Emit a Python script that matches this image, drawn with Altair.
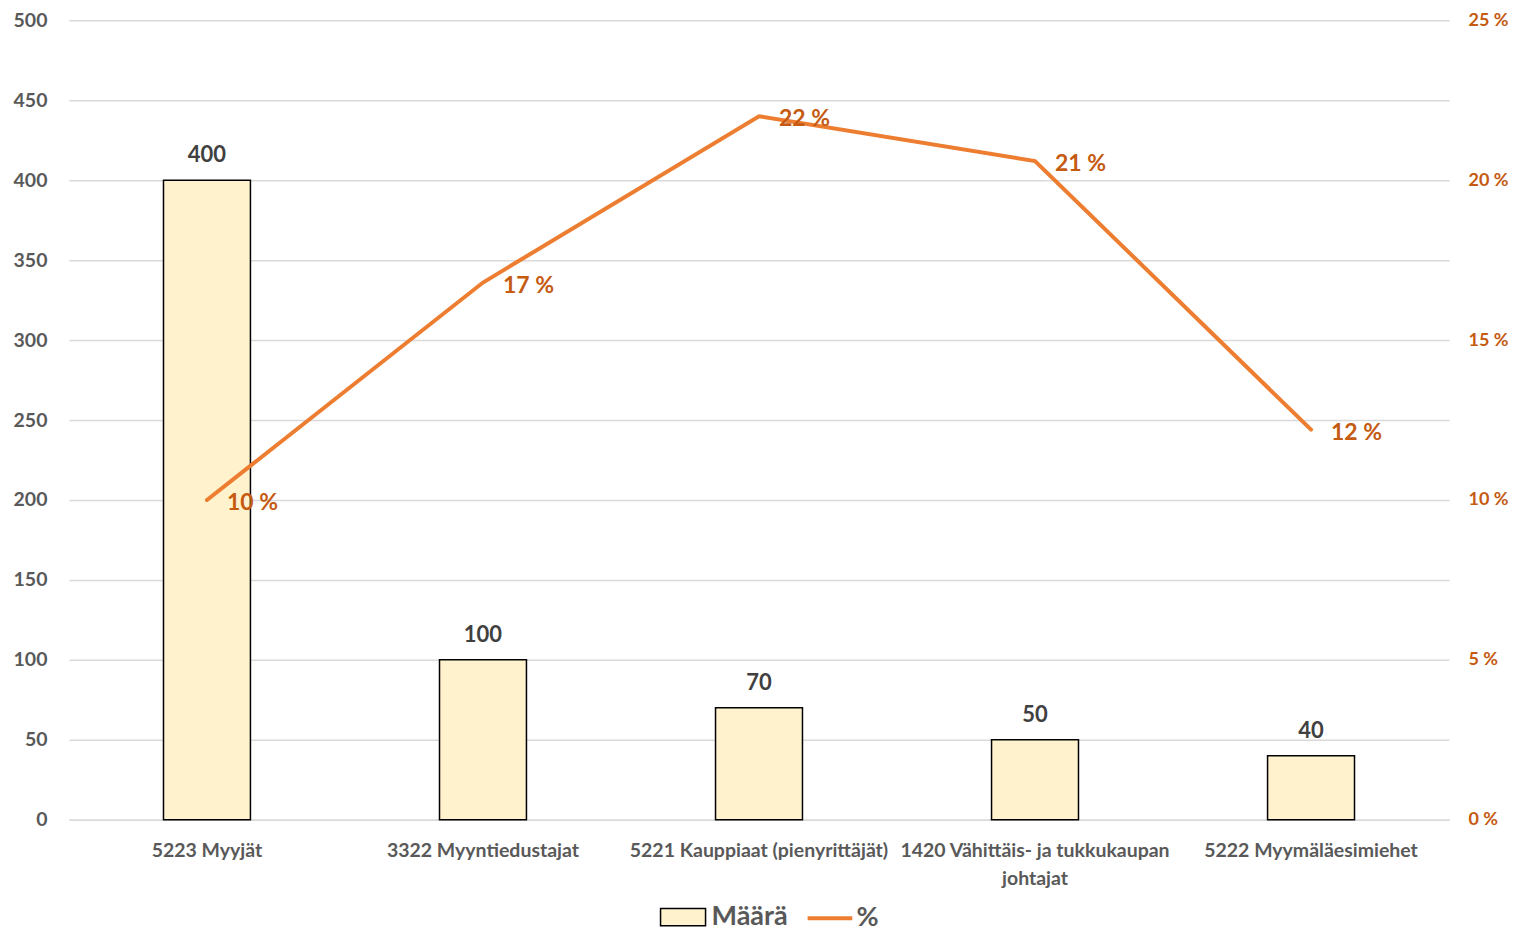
import altair as alt
import pandas as pd

categories = ["5223 Myyjät", "3322 Myyntiedustajat", "5221 Kauppiaat (pienyrittäjät)",
              "1420 Vähittäis- ja tukkukaupan johtajat", "5222 Myymäläesimiehet"]
counts = [400, 100, 70, 50, 40]
pct = [10.0, 16.8, 22.0, 20.6, 12.2]
pct_labels = ["10 %", "17 %", "22 %", "21 %", "12 %"]

df = pd.DataFrame({
    "cat": categories,
    "count": counts,
    "pct": pct,
    "pct_label": pct_labels,
    "s1": ["Määrä"] * 5,
    "s2": ["%"] * 5,
})

FONT = "Lato"
GREY = "#595959"
ORANGE = "#ED7D31"
DORANGE = "#C55A11"

x = alt.X("cat:N", sort=categories, title=None,
          scale=alt.Scale(paddingInner=0, paddingOuter=0),
          axis=alt.Axis(labelAngle=0, labelFontSize=19.5, labelFont=FONT, labelFontWeight="bold",
                        labelColor=GREY, ticks=False, domainColor="#D9D9D9", domainWidth=1.5,
                        labelPadding=22, labelLineHeight=28, labelLimit=400,
                        labelExpr="datum.label == '1420 Vähittäis- ja tukkukaupan johtajat' ? ['1420 Vähittäis- ja tukkukaupan', 'johtajat'] : datum.label"))

y_left = alt.Y("count:Q", title=None, scale=alt.Scale(domain=[0, 500]),
               axis=alt.Axis(values=list(range(0, 501, 50)), labelFontSize=19.5, labelFont=FONT,
                             labelFontWeight="bold", labelColor=GREY, ticks=False, domain=False,
                             gridColor="#D9D9D9", gridWidth=1.5, labelPadding=22, orient="left"))

y_right = alt.Y("pct:Q", title=None, scale=alt.Scale(domain=[0, 25]),
                axis=alt.Axis(values=[0, 5, 10, 15, 20, 25], labelExpr="datum.value + ' %'",
                              labelFontSize=18, labelFont=FONT, labelFontWeight="bold",
                              labelColor=DORANGE, ticks=False, domain=False, grid=False,
                              labelPadding=19, orient="right"))

LEG_Y = 874

bars = alt.Chart(df).mark_bar(stroke="black", strokeWidth=1.5, width=alt.RelativeBandSize(0.315)).encode(
    x=x,
    y=y_left,
    fill=alt.Fill("s1:N", scale=alt.Scale(domain=["Määrä"], range=["#FFF2CC"]),
                  legend=alt.Legend(title=None, orient="none", legendX=596, legendY=LEG_Y + 5,
                                    symbolType="M-1.3,-0.5H1.3V0.5H-1.3Z", symbolSize=1200,
                                    symbolStrokeColor="black", symbolStrokeWidth=1.5,
                                    labelFontSize=27, labelFont=FONT, labelColor=GREY,
                                    labelFontWeight="bold", labelOffset=10, padding=0)),
)

bar_text = alt.Chart(df).mark_text(baseline="bottom", dy=-13, fontSize=22, font=FONT,
                                   fontWeight="bold", color="#404040").encode(
    x=alt.X("cat:N", sort=categories),
    y=y_left,
    text="count:Q",
)

line = alt.Chart(df).mark_line(strokeWidth=4, strokeCap="round").encode(
    x=alt.X("cat:N", sort=categories),
    y=y_right,
    stroke=alt.Stroke("s2:N", scale=alt.Scale(domain=["%"], range=[ORANGE]),
                      legend=alt.Legend(title=None, orient="none", legendX=737, legendY=LEG_Y,
                                        symbolType="stroke", symbolSize=2000, symbolStrokeWidth=4,
                                        labelFontSize=27, labelFont=FONT, labelColor=GREY,
                                        labelFontWeight="bold", labelOffset=2, padding=0)),
)

line_text = alt.Chart(df).mark_text(align="left", baseline="middle", dx=20, dy=3, fontSize=23,
                                    font=FONT, fontWeight="bold", color=DORANGE).encode(
    x=alt.X("cat:N", sort=categories),
    y=y_right,
    text="pct_label:N",
)

left = alt.layer(bars, bar_text)
right = alt.layer(line, line_text)

chart = alt.layer(left, right).resolve_scale(y="independent").properties(
    width=1381, height=800,
    padding={"left": 5, "top": 2, "right": 0, "bottom": 0},
).configure_view(stroke=None)

chart.save("out.html", embed_options={"renderer": "svg", "actions": False})
